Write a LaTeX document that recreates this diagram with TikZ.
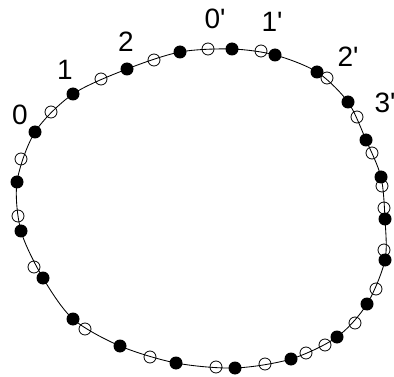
\documentclass[tikz,border=0pt]{standalone}
\usepackage{fontspec}
\newfontfamily\labfont{Liberation Sans}
\usepackage{tikz}
\tikzset{
  fulldot/.style={
    circle, fill=black, inner sep=0pt, minimum size=13pt
  },
  opendot/.style={
    circle, draw=black, line width=0.8pt, inner sep=0pt, minimum size=12pt
  },
  num/.style={
    inner sep=0pt, font=\labfont\fontsize{28}{32}\selectfont
  },
  ring/.style={line width=0.85pt}
}

\begin{document}
\begin{tikzpicture}[x=1pt, y=-1pt]
\useasboundingbox (0,0) rectangle (394,377);
% filled points
\foreach \i/\x/\y in {1/17/182, 2/35/132, 3/73/94, 4/127/69, 5/180/52,
  6/232/49, 7/275/55, 8/317/72, 9/348/102, 10/366/140, 11/381/177,
  12/385/219, 13/385/260, 14/367/304, 15/337/337, 16/291/359,
  17/235/368, 18/176/363, 19/120/346, 20/73/319, 21/43/278, 22/21/231}
  \node[fulldot] (b\i) at (\x,\y) {};
% open points
\foreach \i/\x/\y in {1/21/159, 2/51/112, 3/101/79, 4/154/60, 5/208/49,
  6/261/51, 7/327/78, 8/357/117, 9/372/153, 10/382/186, 11/384/208,
  12/384/250, 13/376/289, 14/355/323, 15/325/345, 16/306/353,
  17/265/364, 18/216/367, 19/150/357, 20/85/329, 21/34/267, 22/18/216}
  \node[opendot] (w\i) at (\x,\y) {};
\draw[ring] plot[smooth cycle] coordinates {(b1.center) (b2.center)
  (b3.center) (b4.center) (b5.center) (b6.center) (b7.center) (b8.center)
  (b9.center) (b10.center) (b11.center) (b12.center) (b13.center)
  (b14.center) (b15.center) (b16.center) (b17.center) (b18.center)
  (b19.center) (b20.center) (b21.center) (b22.center)};
\node[num] (l0) at (20,115) {0};
\node[num] (l1) at (65,70) {1};
\node[num] (l2) at (126,42) {2};
\node[num] (l0p) at (215,19) {0'};
\node[num] (l1p) at (272,22) {1'};
\node[num] (l2p) at (348,57) {2'};
\node[num] (l3p) at (385,103) {3'};
\end{tikzpicture}
\end{document}
